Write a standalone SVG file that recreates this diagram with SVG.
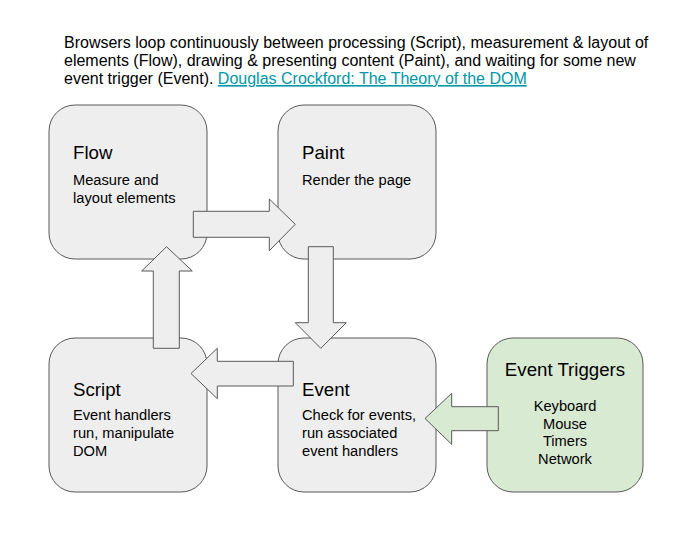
<svg xmlns="http://www.w3.org/2000/svg" width="695" height="540" viewBox="0 0 695 540">
<style>
.box{fill:#eeeeee;stroke:#595959;stroke-width:1}
.green{fill:#d9ead3;stroke:#595959;stroke-width:1}
.arrow{fill:#eeeeee;stroke:#595959;stroke-width:1;stroke-linejoin:miter}
.arrowg{fill:#d9ead3;stroke:#595959;stroke-width:1}
text{font-family:"Liberation Sans",Arial,sans-serif;fill:#000}
.hdr{font-size:16px}
.title{font-size:18.67px}
.body{font-size:14.67px}
.link{fill:#0097a7;text-decoration:underline}
</style>
<rect width="695" height="540" fill="#ffffff"/>
<g id="header">
<text class="hdr" x="64" y="48">Browsers loop continuously between processing (Script), measurement &amp; layout of</text>
<text class="hdr" x="64" y="66">elements (Flow), drawing &amp; presenting content (Paint), and waiting for some new</text>
<text class="hdr" x="64" y="84">event trigger (Event). <tspan class="link">Douglas Crockford: The Theory of the DOM</tspan></text>
</g>
<g id="flow">
<rect class="box" x="49" y="105" width="158" height="154" rx="26"/>
<text class="title" x="73" y="159">Flow</text>
<text class="body" x="73" y="185">Measure and</text>
<text class="body" x="73" y="203">layout elements</text>
</g>
<g id="paint">
<rect class="box" x="278" y="105" width="158" height="154" rx="26"/>
<text class="title" x="302" y="159">Paint</text>
<text class="body" x="302" y="185">Render the page</text>
</g>
<g id="script">
<rect class="box" x="49" y="338" width="158" height="154" rx="26"/>
<text class="title" x="73" y="396">Script</text>
<text class="body" x="73" y="420">Event handlers</text>
<text class="body" x="73" y="438">run, manipulate</text>
<text class="body" x="73" y="456">DOM</text>
</g>
<g id="event">
<rect class="box" x="278" y="338" width="158" height="154" rx="26"/>
<text class="title" x="302" y="396">Event</text>
<text class="body" x="302" y="420">Check for events,</text>
<text class="body" x="302" y="438">run associated</text>
<text class="body" x="302" y="456">event handlers</text>
</g>
<g id="triggers">
<rect class="green" x="487" y="338" width="156" height="154" rx="26"/>
<text class="title" x="565" y="376" text-anchor="middle">Event Triggers</text>
<text class="body" x="565" y="411" text-anchor="middle">Keyboard</text>
<text class="body" x="565" y="428.6" text-anchor="middle">Mouse</text>
<text class="body" x="565" y="446.2" text-anchor="middle">Timers</text>
<text class="body" x="565" y="463.8" text-anchor="middle">Network</text>
</g>
<g id="connectors">
<polygon class="arrow" points="193.3,211.3 269.3,211.3 269.3,199 295.3,224.3 269.3,250.7 269.3,237.3 193.3,237.3"/>
<polygon class="arrow" points="308.3,246.7 333.3,246.7 333.3,322.7 346.3,322.7 320.8,348.3 295.3,322.7 308.3,322.7"/>
<polygon class="arrow" points="293.3,361.3 217.3,361.3 217.3,348.3 191,373.5 217.3,398.7 217.3,386 293.3,386"/>
<polygon class="arrow" points="153.3,348.3 153.3,271 141.7,271 166.5,246.7 192.3,271 179.3,271 179.3,348.3"/>
<polygon class="arrowg" points="498.3,406.7 451.7,406.7 451.7,393.3 425,418.5 451.7,444.3 451.7,430.7 498.3,430.7"/>
</g>
</svg>
